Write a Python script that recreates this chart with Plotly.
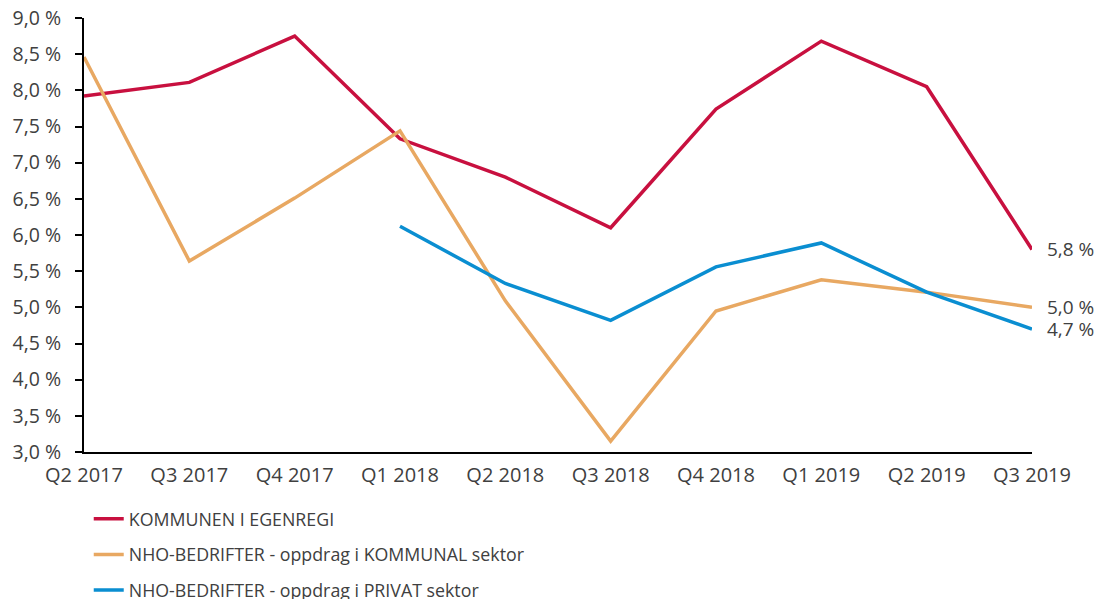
import plotly.graph_objects as go

categories = ["Q2 2017", "Q3 2017", "Q4 2017", "Q1 2018", "Q2 2018",
              "Q3 2018", "Q4 2018", "Q1 2019", "Q2 2019", "Q3 2019"]
kommunen = [7.92, 8.11, 8.75, 7.33, 6.80, 6.10, 7.74, 8.68, 8.05, 5.80]
nho_kommunal = [8.46, 5.64, 6.51, 7.44, 5.09, 3.15, 4.95, 5.38, 5.21, 5.00]
nho_privat = [None, None, None, 6.12, 5.33, 4.82, 5.56, 5.89, 5.21, 4.70]

names = ["KOMMUNEN I EGENREGI",
         "NHO-BEDRIFTER - oppdrag i KOMMUNAL sektor",
         "NHO-BEDRIFTER - oppdrag i PRIVAT sektor"]
colors = ["#C8103F", "#E8A862", "#0A8ED1"]
series = [kommunen, nho_kommunal, nho_privat]

FONT = "Open Sans"
TXT = "#404040"

fig = go.Figure()
for i, (vals, name, col) in enumerate(zip(series, names, colors)):
    fig.add_trace(go.Scatter(
        x=categories, y=vals, name=name, mode="lines",
        line=dict(color=col, width=3.5),
        cliponaxis=False, legendgroup=f"g{i}", connectgaps=False,
    ))
    fig.add_annotation(
        x=categories[-1], y=vals[-1], xref="x", yref="y",
        text=f"{vals[-1]:.1f} %".replace(".", ","),
        showarrow=False, xanchor="left", yanchor="middle", xshift=13,
        font=dict(family=FONT, size=19, color=TXT),
    )

fig.update_layout(
    width=1101, height=599,
    margin=dict(l=84, r=69, t=18, b=147),
    paper_bgcolor="white", plot_bgcolor="white",
    separators=", ",
    font=dict(family=FONT, size=19, color=TXT),
    showlegend=True,
    legend=dict(orientation="v", x=0.005, xanchor="left",
                yref="container", y=0.164, yanchor="top",
                font=dict(family=FONT, size=17.8, color=TXT),
                tracegroupgap=9.5, traceorder="grouped",
                bgcolor="rgba(0,0,0,0)"),
    xaxis=dict(type="category", range=[0, 9], showgrid=False, zeroline=False,
               showline=True, linecolor="black", linewidth=2, ticks="",
               automargin=False, ticklabelstandoff=4,
               tickfont=dict(family=FONT, size=20, color=TXT)),
    yaxis=dict(range=[3, 9], dtick=0.5, tick0=3, tickformat=".1f", ticksuffix=" %",
               showgrid=False, zeroline=False, showline=True, linecolor="black",
               linewidth=2, ticks="outside", ticklen=7, tickcolor="black", tickwidth=2,
               automargin=False, ticklabelstandoff=10,
               tickfont=dict(family=FONT, size=19.5, color=TXT)),
)
fig.write_html("out.html", config={"displayModeBar": False},
               post_script="document.body.style.margin='0';")
